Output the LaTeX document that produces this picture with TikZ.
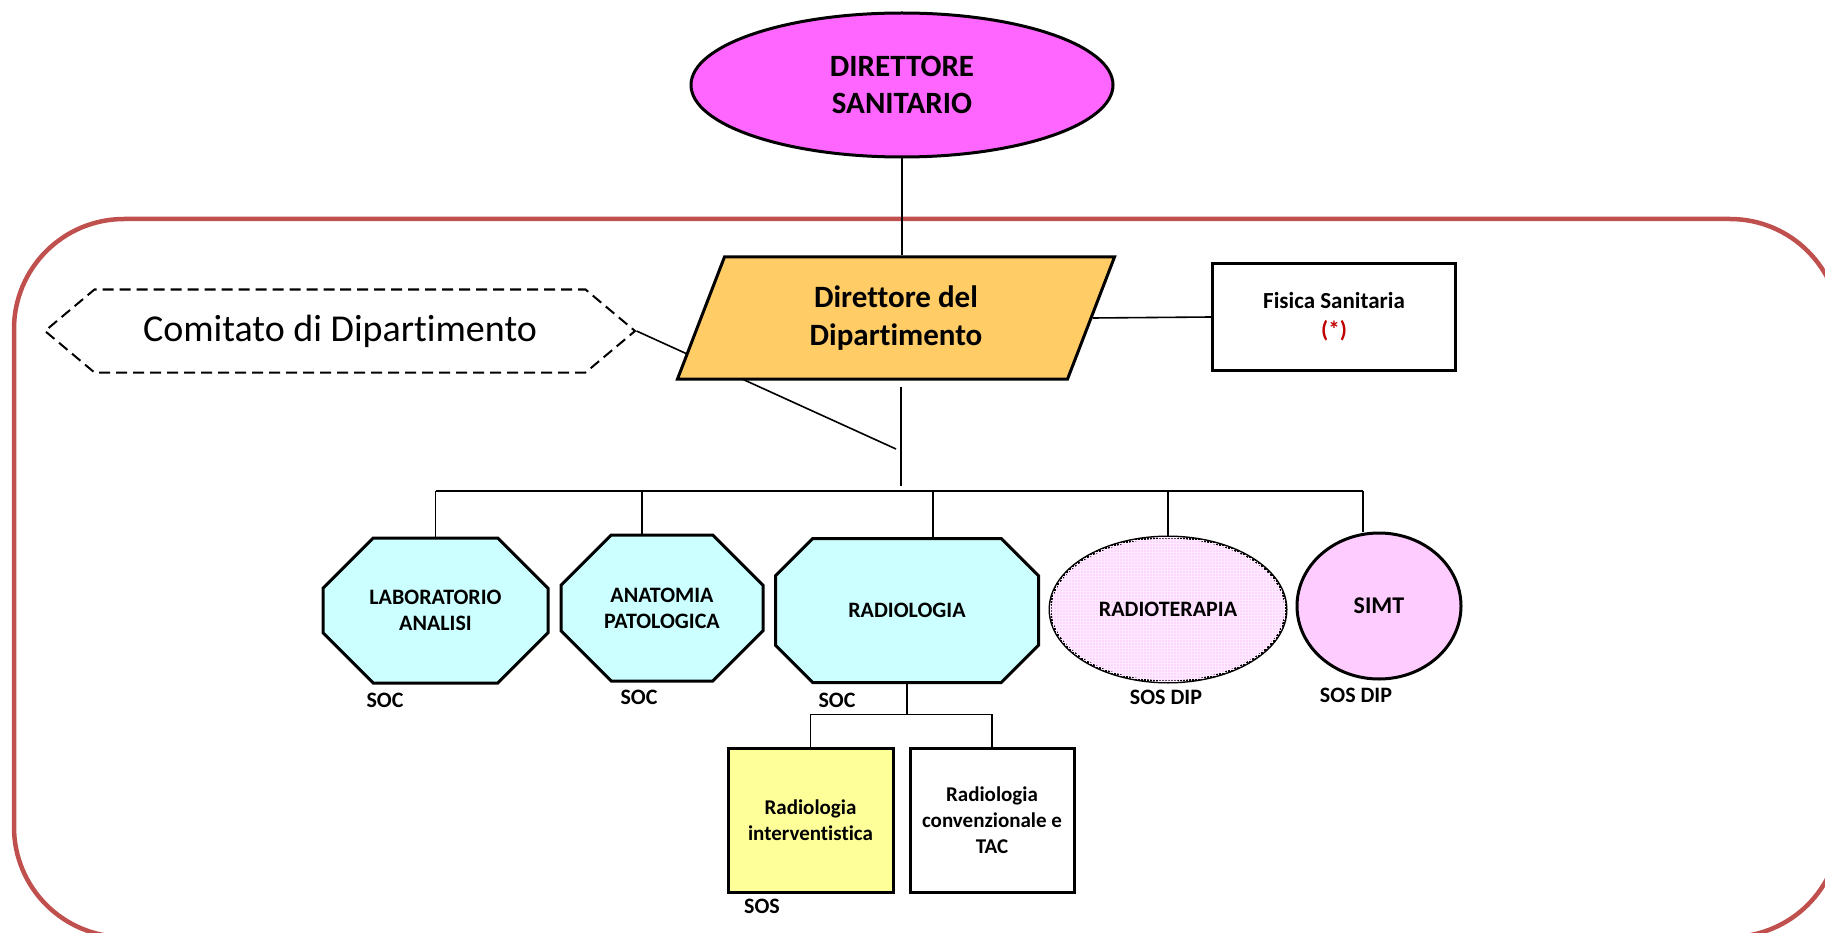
\documentclass[tikz,border=0pt]{standalone}
\usepackage{fontspec}
\setmainfont[Ligatures={NoCommon}]{Carlito}
\usetikzlibrary{shapes.geometric,shapes.misc,shapes.symbols,patterns}

\definecolor{rougecadre}{RGB}{192,80,77}
\definecolor{rougetexte}{RGB}{192,0,0}
\definecolor{magenta1}{RGB}{255,102,255}
\definecolor{orange1}{RGB}{255,204,102}
\definecolor{cyan1}{RGB}{204,255,255}
\definecolor{rose1}{RGB}{255,204,255}
\definecolor{rose2}{RGB}{255,214,255}
\definecolor{jaune1}{RGB}{255,255,153}

\begin{document}
\begin{tikzpicture}[x=1pt,y=-1pt,
    trait/.style={line width=1.6pt},
    octo/.style={chamfered rectangle,chamfered rectangle sep=30pt,draw,line width=3pt,fill=cyan1,
        inner sep=0pt,minimum height=145pt,align=center,font=\fontsize{22}{26}\selectfont\bfseries},
    ovale/.style={ellipse,draw,line width=3pt,inner sep=0pt,align=center},
    boite/.style={rectangle,draw,line width=3pt,inner sep=0pt,align=center},
    etiq/.style={font=\fontsize{22}{26}\selectfont\bfseries}]
    \useasboundingbox (0,0) rectangle (1825,933);
    \begin{scope}
        \clip (0,0) rectangle (1825,933);
        \draw[rougecadre,line width=4.5pt,rounded corners=110pt] (14,219) rectangle (1840,937);
    \end{scope}
    %Direttore sanitario
    \node[ovale,fill=magenta1,minimum width=422pt,minimum height=144pt,font=\fontsize{31}{37}\selectfont\bfseries]
        (ds) at (902,85) {DIRETTORE\\SANITARIO};
    \node[signal,signal to=west and east,signal pointer angle=80,draw,dashed,dash pattern=on 11pt off 6pt,
        line width=2pt,minimum width=590pt,minimum height=83pt,font=\fontsize{38}{44}\selectfont]
        (com) at (340,331) {Comitato di Dipartimento};
    \coordinate (jn) at (896,449);
    \draw[trait] (com.east) -- (jn);
    \node[trapezium,trapezium left angle=54,trapezium right angle=126,trapezium stretches body,
        draw,line width=3pt,fill=orange1,minimum width=437pt,minimum height=122pt,inner sep=0pt,
        align=center,font=\fontsize{31}{38}\selectfont\bfseries] (dir) at (896,318) {Direttore del\\Dipartimento};
    \node[boite,minimum width=243pt,minimum height=107pt,font=\fontsize{23}{29}\selectfont\bfseries]
        (fis) at (1334,317) {Fisica Sanitaria\\\textcolor{rougetexte}{(*)}};
    \draw[trait] (ds.south) -- (ds.south |- dir.north);
    \draw[trait] (dir.east) -- (fis.west);
    % strutture
    \node[octo,minimum width=225pt] (lab) at (435.5,610.5) {LABORATORIO\\ANALISI};
    \node[octo,minimum width=202pt,minimum height=146pt] (ana) at (662,608) {ANATOMIA\\PATOLOGICA};
    \node[octo,minimum width=263pt,minimum height=144pt] (rad) at (907,610.5) {RADIOLOGIA};
    \node[ovale,fill=rose2,postaction={pattern=grid,pattern color=white!60!rose1},minimum width=236pt,
        minimum height=145pt,font=\fontsize{22}{26}\selectfont\bfseries] (rte) at (1168,609.5) {RADIOTERAPIA};
    \node[ovale,fill=rose1,minimum width=164pt,minimum height=146pt,font=\fontsize{24}{28}\selectfont\bfseries]
        (simt) at (1379,606) {SIMT};
    \node[etiq] (soclab) at (385,700) {SOC};
    \node[etiq] (socana) at (639,697) {SOC};
    \node[etiq] (socrad) at (837,700) {SOC};
    \node[etiq] (sosrte) at (1166,697) {SOS DIP};
    \node[etiq] (sossimt) at (1356,695) {SOS DIP};
    \coordinate (hub) at (901,486);
    \coordinate (busL) at (435.5,491);
    \coordinate (busR) at (1363,491);
    \draw[trait] (hub |- dir.south) ++(0,6) -- (hub);
    \draw[line width=2.6pt] (busL) -- (busR);
    \foreach \n/\dx in {lab/0,rad/26,rte/0,simt/-16}
        \draw[trait] ([xshift=\dx pt]\n.north) -- ([xshift=\dx pt]\n.north |- busL);
    \draw[line width=2.6pt] ([xshift=-20pt]ana.north) -- ([xshift=-20pt]ana.north |- busL);
    % radiologia
    \node[boite,fill=jaune1,minimum width=165pt,minimum height=144pt,font=\fontsize{21}{26}\selectfont\bfseries]
        (rint) at (810.5,820) {Radiologia\\interventistica};
    \node[boite,minimum width=164pt,minimum height=144pt,font=\fontsize{21}{26}\selectfont\bfseries]
        (rconv) at (992,820) {Radiologia\\convenzionale e\\TAC};
    \node[etiq] (sosrint) at (762,906) {SOS};
    \draw[trait] (rint.north) -- ++(0,-32) -| (rconv.north);
    \draw[trait] (rad.south) -- ([yshift=32pt]rad.south |- rint.north);
\end{tikzpicture}
\end{document}
